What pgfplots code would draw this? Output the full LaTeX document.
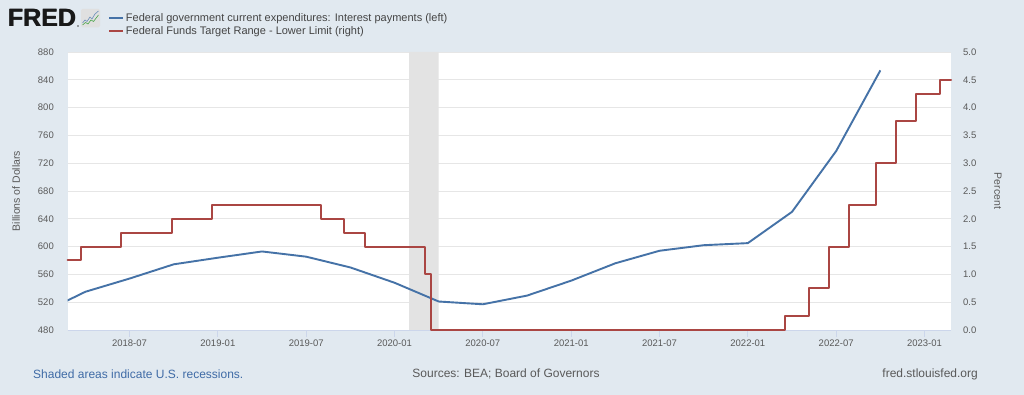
\documentclass[border=0pt]{standalone}
\usepackage{pgfplots}
\pgfplotsset{compat=1.18}
\usepackage{fontspec}
\setmainfont{Liberation Sans}
\definecolor{bg}{HTML}{E1E9F0}
\definecolor{fblue}{HTML}{4572A7}
\definecolor{fredred}{HTML}{AA4643}
\definecolor{gridc}{HTML}{E6E6E6}
\definecolor{axc}{HTML}{CCD6EB}
\definecolor{recc}{HTML}{E3E3E3}
\definecolor{txt}{HTML}{595959}
\definecolor{lgt}{HTML}{444444}
\definecolor{lnk}{HTML}{3F6BA6}
\begin{document}
\begin{tikzpicture}[x=1pt,y=1pt]
\fill[bg] (0,0) rectangle (1024,395);
\pgfresetboundingbox
\useasboundingbox (0,0) rectangle (1024,395);
% logo
\node[anchor=west, inner sep=0pt, font=\fontsize{25}{25}\selectfont\bfseries, text=black!90] at (7.5pt,377pt) {FRED};
\node[anchor=west, inner sep=0pt, font=\fontsize{25}{25}\selectfont\bfseries, text=black!90] at (8.1pt,377pt) {FRED};
\fill[black!70] (78pt,369pt) circle (0.8pt);
\fill[rounded corners=1.5pt, fill=black!12] (81pt,367.5pt) rectangle (100pt,386pt);
\draw[fblue!80, line width=0.6pt] (82.5pt,372pt) -- (85pt,375pt) -- (87pt,373.5pt) -- (90pt,378pt) -- (92pt,376pt) -- (95pt,381pt) -- (98.5pt,384pt);
\draw[green!50!black!70, line width=0.6pt] (82.5pt,370pt) -- (85.5pt,372.5pt) -- (88pt,371pt) -- (91pt,375pt) -- (93.5pt,373.5pt) -- (98.5pt,380pt);
\begin{axis}[
  at={(67.7pt,65pt)}, anchor=south west,
  scale only axis, width=883.3pt, height=278pt,
  xmin=1.8, xmax=61.8, ymin=480, ymax=880,
  axis x line*=bottom, axis y line*=left,
  x axis line style={-, draw=axc, line width=0.8pt},
  y axis line style={draw=none},
  axis background/.style={fill=white},
  xtick={6,12,18,24,30,36,42,48,54,60},
  xticklabels={2018-07,2019-01,2019-07,2020-01,2020-07,2021-01,2021-07,2022-01,2022-07,2023-01},
  ytick={480,520,560,600,640,680,720,760,800,840,880},
  ymajorgrids, grid style={draw=gridc, line width=0.8pt},
  y tick style={draw=none},
  x tick style={draw=axc, line width=0.8pt},
  tick align=outside, major tick length=7pt,
  ticklabel style={font=\fontsize{9.5}{11}\selectfont, text=txt},
  /pgf/number format/assume math mode=true,
  yticklabel style={anchor=east, inner sep=0pt, xshift=-6.7pt},
  xticklabel style={anchor=north, inner sep=0pt, yshift=-3pt},
  legend style={at={(0.0456,1.148)}, anchor=north west, draw=none, fill=none,
    font=\fontsize{11}{13}\selectfont, text=lgt, inner sep=0pt, row sep=0pt},
  legend cell align=left,
  legend image code/.code={\draw[#1, line width=1.8pt] (0pt,0pt) -- (14pt,0pt);},
]
\addplot[fill=recc, draw=none, forget plot] coordinates {(25,480) (25,880) (27,880) (27,480)} \closedcycle;
\addplot[fblue, line width=1.9pt, line join=round] coordinates {
(0,504) (3,535) (6,554) (9,574.5) (12,584) (15,593) (18,585.5) (21,570) (24,548)
(27,521) (30,517) (33,529.5) (36,551) (39,576) (42,594) (45,602) (48,605)
(51,650) (54,737.5) (57,853.5)};
\addlegendentry{Federal government current expenditures: Interest payments (left)}
\addlegendimage{fredred}
\addlegendentry{Federal Funds Target Range - Lower Limit (right)}
\end{axis}
\begin{axis}[
  at={(67.7pt,65pt)}, anchor=south west,
  scale only axis, width=883.3pt, height=278pt,
  xmin=1.8, xmax=61.8, ymin=0, ymax=5,
  axis x line=none, axis y line*=right,
  y axis line style={draw=none}, y tick style={draw=none},
  tick align=outside, major tick length=7pt,
  ytick={0,0.5,1,1.5,2,2.5,3,3.5,4,4.5,5},
  /pgf/number format/assume math mode=true,
  yticklabel style={font=\fontsize{9.5}{11}\selectfont, text=txt, anchor=west, inner sep=0pt, xshift=5pt,
    /pgf/number format/.cd, fixed, fixed zerofill, precision=1},
  clip=false,
]
\addplot[const plot, draw=fredred, line width=2pt, line join=round, line cap=round] coordinates {
(1.8,1.25) (2.68,1.5) (5.43,1.75) (8.87,2.0) (11.61,2.25) (19.0,2.0) (20.6,1.75)
(21.97,1.5) (26.10,1.0) (26.48,0.0) (50.52,0.25) (52.13,0.75) (53.5,1.5)
(54.87,2.25) (56.7,3.0) (58.07,3.75) (59.45,4.25) (61.03,4.5) (61.8,4.5)};
\end{axis}
\node[rotate=90, text=txt, font=\fontsize{10.5}{12}\selectfont] at (16pt,204pt) {Billions of Dollars};
\node[rotate=-90, text=txt, font=\fontsize{10.5}{12}\selectfont] at (998pt,204pt) {Percent};
\node[anchor=west, inner sep=0pt, text=lnk, font=\fontsize{12}{14}\selectfont] at (33pt,21pt) {Shaded areas indicate U.S. recessions.};
\node[inner sep=0pt, text=txt, font=\fontsize{12}{14}\selectfont] at (506pt,21pt) {Sources: BEA; Board of Governors};
\node[anchor=east, inner sep=0pt, text=txt, font=\fontsize{12}{14}\selectfont] at (978pt,21pt) {fred.stlouisfed.org};
\end{tikzpicture}
\end{document}
